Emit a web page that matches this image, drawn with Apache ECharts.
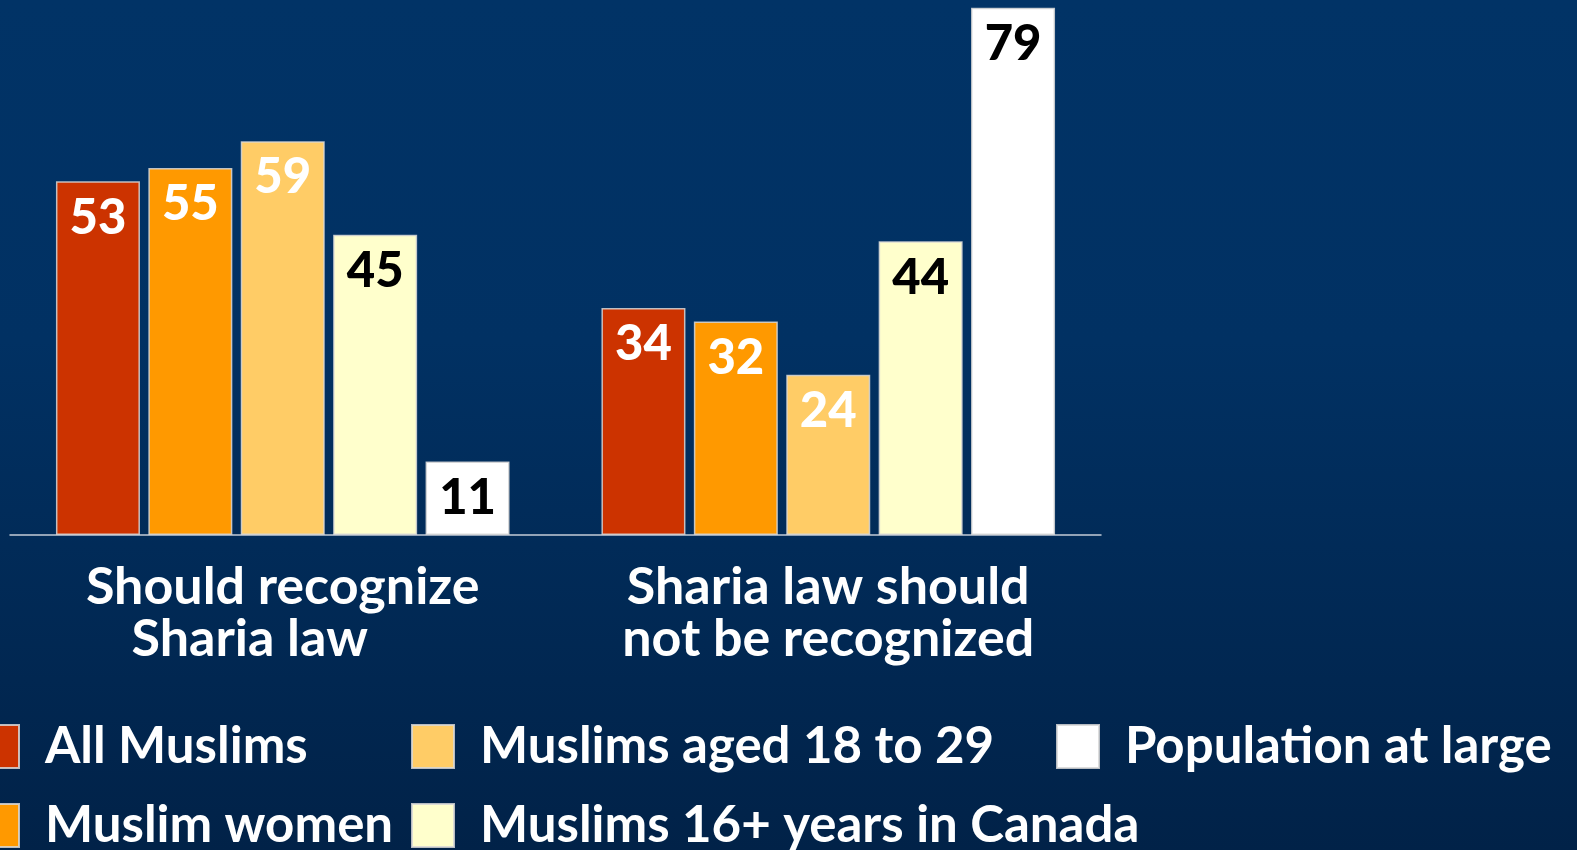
<!DOCTYPE html>
<html>
<head>
<meta charset="UTF-8">
<title>Sharia law</title>
<script src="https://cdn.jsdelivr.net/npm/echarts@6/dist/echarts.min.js"></script>
<style>
  html, body { margin: 0; padding: 0; }
  #main { width: 1577px; height: 850px; }
</style>
</head>
<body>
<div id="main"></div>
<script type="text/javascript">
// data
var categories = ['Should recognize\n{l2|Sharia law}', 'Sharia law should\nnot be recognized'];
var seriesNames = ['All Muslims', 'Muslim women', 'Muslims aged 18 to 29', 'Muslims 16+ years in Canada', 'Population at large'];
var allMuslims = [53, 34];
var muslimWomen = [55, 32];
var aged18to29 = [59, 24];
var years16plus = [45, 44];
var population = [11, 79];

var values = [allMuslims, muslimWomen, aged18to29, years16plus, population];
var colors = ['#cc3300', '#ff9900', '#ffcc66', '#ffffcc', '#ffffff'];
var labelColors = ['#ffffff', '#ffffff', '#ffffff', '#000000', '#000000'];
var font = 'Lato, "Open Sans", sans-serif';

var myChart = echarts.init(document.getElementById('main'));

var series = [];
for (var i = 0; i < seriesNames.length; i++) {
    series.push({
        name: seriesNames[i],
        type: 'bar',
        data: values[i],
        barWidth: 84,
        barGap: '10%',
        itemStyle: {
            color: colors[i],
            borderColor: 'rgba(215,215,215,0.85)',
            borderWidth: 1.5
        },
        label: {
            show: true,
            position: 'insideTop',
            distance: 12,
            color: labelColors[i],
            fontFamily: font,
            fontWeight: 900,
            fontSize: 49,
            lineHeight: 49
        }
    });
}

// one legend per column, the reference lines them up like a table
// (height given so the second row is not wrapped into a new column)
function legendCol(names, left) {
    return {
        orient: 'vertical',
        left: left,
        top: 721,
        height: 160,
        padding: 0,
        data: names,
        icon: 'rect',
        itemWidth: 42,
        itemHeight: 43,
        itemGap: 28,
        selectedMode: false,
        textStyle: {
            color: '#ffffff',
            fontFamily: font,
            fontWeight: 'bold',
            fontSize: 51,
            lineHeight: 50,
            padding: [0, 0, 0, 21]
        }
    };
}

var option = {
    backgroundColor: new echarts.graphic.LinearGradient(0, 0, 0, 1, [
        { offset: 0, color: '#013366' },
        { offset: 0.4, color: '#013163' },
        { offset: 1, color: '#012248' }
    ]),
    animation: false,
    legend: [
        legendCol(['All Muslims', 'Muslim women'], -24),
        legendCol(['Muslims aged 18 to 29', 'Muslims 16+ years in Canada'], 411),
        legendCol(['Population at large'], 1056)
    ],
    grid: {
        left: 10,
        right: 476,
        top: 1,
        bottom: 315
    },
    xAxis: {
        type: 'category',
        data: categories,
        axisTick: { show: false },
        axisLine: { lineStyle: { color: '#c3ccd6', width: 1.5 } },
        axisLabel: {
            color: '#ffffff',
            fontFamily: font,
            fontWeight: 'bold',
            fontSize: 52,
            lineHeight: 52,
            margin: 26,
            rich: {
                l2: {
                    color: '#ffffff',
                    fontFamily: font,
                    fontWeight: 'bold',
                    fontSize: 52,
                    lineHeight: 52,
                    padding: [0, 66, 0, 0]
                }
            }
        }
    },
    yAxis: {
        type: 'value',
        min: 0,
        max: 80,
        show: false,
        splitLine: { show: false }
    },
    series: series
};
myChart.setOption(option);
</script>
</body>
</html>
